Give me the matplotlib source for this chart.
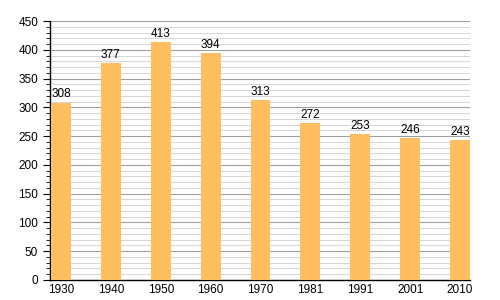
import matplotlib
matplotlib.use("Agg")
import matplotlib.pyplot as plt
import numpy as np

YEARS = ["1930", "1940", "1950", "1960", "1970", "1981", "1991", "2001", "2010"]
POPULATION = [308, 377, 413, 394, 313, 272, 253, 246, 243]

plt.rcParams["font.family"] = ["Liberation Sans", "DejaVu Sans"]

fig = plt.figure(figsize=(5, 3), dpi=100)
ax = fig.add_axes([0.1, 0.067, 0.84, 0.863])

x = np.arange(len(YEARS))
ax.bar(x, POPULATION, width=0.4, color="#ffbf60", zorder=3)

for xi, v in zip(x, POPULATION):
    ax.text(xi, v + 4, str(v), ha="center", va="bottom", fontsize=8.5, zorder=4)

ax.set_ylim(0, 450)
ax.set_xlim(-0.22, 8.2)
ax.set_yticks(np.arange(0, 451, 50))
ax.set_yticks(np.arange(0, 451, 10), minor=True)
ax.set_xticks(x)
ax.set_xticklabels(YEARS)
ax.grid(axis="y", which="major", color="#a0a0a0", linewidth=0.8, zorder=0)
ax.grid(axis="y", which="minor", color="#d0d0d0", linewidth=0.6, zorder=0)
ax.tick_params(axis="y", which="major", length=5, labelsize=8.5, width=0.8)
ax.tick_params(axis="y", which="minor", length=3, width=0.6)
ax.tick_params(axis="x", length=0, labelsize=8.5, pad=3)
for side in ["top", "right"]:
    ax.spines[side].set_visible(False)
ax.spines["left"].set_linewidth(1)
ax.spines["bottom"].set_linewidth(1)

fig.savefig("out.png", dpi=100)
